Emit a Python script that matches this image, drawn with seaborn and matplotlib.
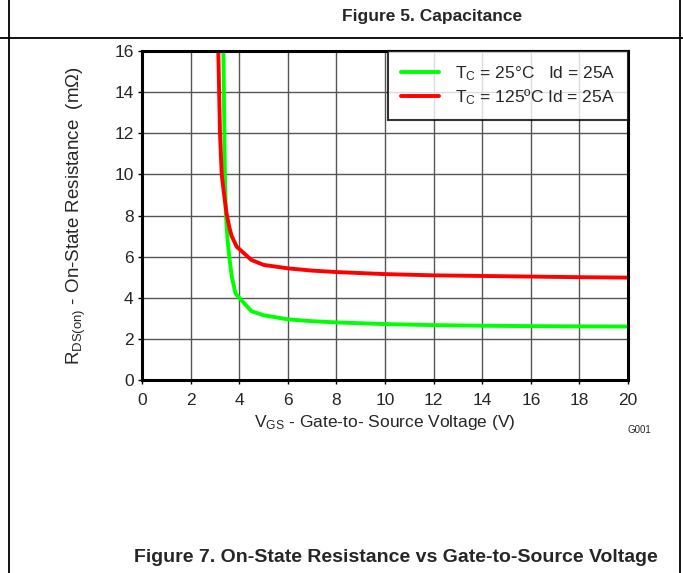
import numpy as np
import pandas as pd
import matplotlib
matplotlib.use("Agg")
import matplotlib.pyplot as plt
import seaborn as sns

# Curve readings (VGS in V, RDS(on) in mOhm)
vgs_25 = [3.35, 3.39, 3.41, 3.45, 3.51, 3.59, 3.70, 3.85, 4.0, 4.5, 5.0, 6.0, 7.0, 8.0, 10, 12, 14, 16, 18, 20]
rds_25 = [16.0, 12.0, 10.0, 8.1, 7.0, 6.0, 5.0, 4.2, 4.0, 3.35, 3.15, 2.95, 2.86, 2.80, 2.72, 2.67, 2.64, 2.62, 2.61, 2.60]
vgs_125 = [3.14, 3.21, 3.28, 3.38, 3.48, 3.60, 3.69, 3.9, 4.5, 5.0, 6.0, 7.0, 8.0, 10, 12, 14, 16, 18, 20]
rds_125 = [16.0, 12.0, 10.0, 9.0, 8.1, 7.4, 7.0, 6.48, 5.84, 5.6, 5.43, 5.32, 5.25, 5.15, 5.09, 5.06, 5.03, 5.0, 4.98]

series_labels = ["T$_{C}$ = 25°C   Id = 25A", "T$_{C}$ = 125ºC Id = 25A"]
series_colors = ["#00ff00", "#ff0000"]

x_ticks = list(range(0, 21, 2))
y_ticks = list(range(0, 17, 2))

df = pd.concat([
    pd.DataFrame({"vgs": vgs_25, "rds": rds_25, "series": series_labels[0]}),
    pd.DataFrame({"vgs": vgs_125, "rds": rds_125, "series": series_labels[1]}),
])

sns.set_style("white")
plt.rcParams["font.family"] = ["Liberation Sans", "DejaVu Sans"]
plt.rcParams["mathtext.default"] = "regular"

fig = plt.figure(figsize=(6.83, 5.73), dpi=100)
ax = fig.add_axes([0.2079, 0.3368, 0.7116, 0.5742])

sns.lineplot(data=df, x="vgs", y="rds", hue="series", palette=series_colors,
             sort=False, estimator=None, linewidth=2.8, ax=ax)

ax.set_xlim(0, 20)
ax.set_ylim(0, 16)
ax.set_xticks(x_ticks)
ax.set_yticks(y_ticks)
ax.tick_params(labelsize=12.5, length=3, width=1, color="black", direction="out",
               bottom=True, left=True, pad=3)
ax.tick_params(axis="x", pad=6)
ax.grid(True, color="#555555", linewidth=1)
ax.set_axisbelow(True)
for s in ax.spines.values():
    s.set_color("black")
    s.set_linewidth(2.2)

ax.set_xlabel("V$_{GS}$ - Gate-to- Source Voltage (V)", fontsize=12.5, labelpad=4)
ax.set_ylabel("R$_{DS(on)}$ - On-State Resistance  (mΩ)", fontsize=13.5, labelpad=19)

leg = ax.legend(loc="upper right", fontsize=12.5, frameon=True, fancybox=False,
                borderaxespad=0, handlelength=2.2, handletextpad=0.9,
                labelspacing=0.25, borderpad=0.75, title=None)
leg.get_frame().set_edgecolor("black")
leg.get_frame().set_linewidth(1.5)
for line in leg.get_lines():
    line.set_linewidth(2.8)

fig.text(639 / 683, 1 - 430 / 573, "G001", fontsize=7, ha="center", va="center")

# page frame lines
fig.add_artist(plt.Line2D([0, 1], [1 - 38 / 573] * 2, color="black", linewidth=1.3))
fig.add_artist(plt.Line2D([9 / 683] * 2, [0, 1], color="black", linewidth=1.3))
fig.add_artist(plt.Line2D([680 / 683] * 2, [0, 1], color="black", linewidth=1.3))

fig.text(432 / 683, 1 - 16 / 573, "Figure 5. Capacitance", fontsize=12.5,
         fontweight="bold", ha="center", va="center")
fig.text(396 / 683, 1 - 557 / 573, "Figure 7. On-State Resistance vs Gate-to-Source Voltage",
         fontsize=14, fontweight="bold", ha="center", va="center")

fig.savefig("out.png", dpi=100)
